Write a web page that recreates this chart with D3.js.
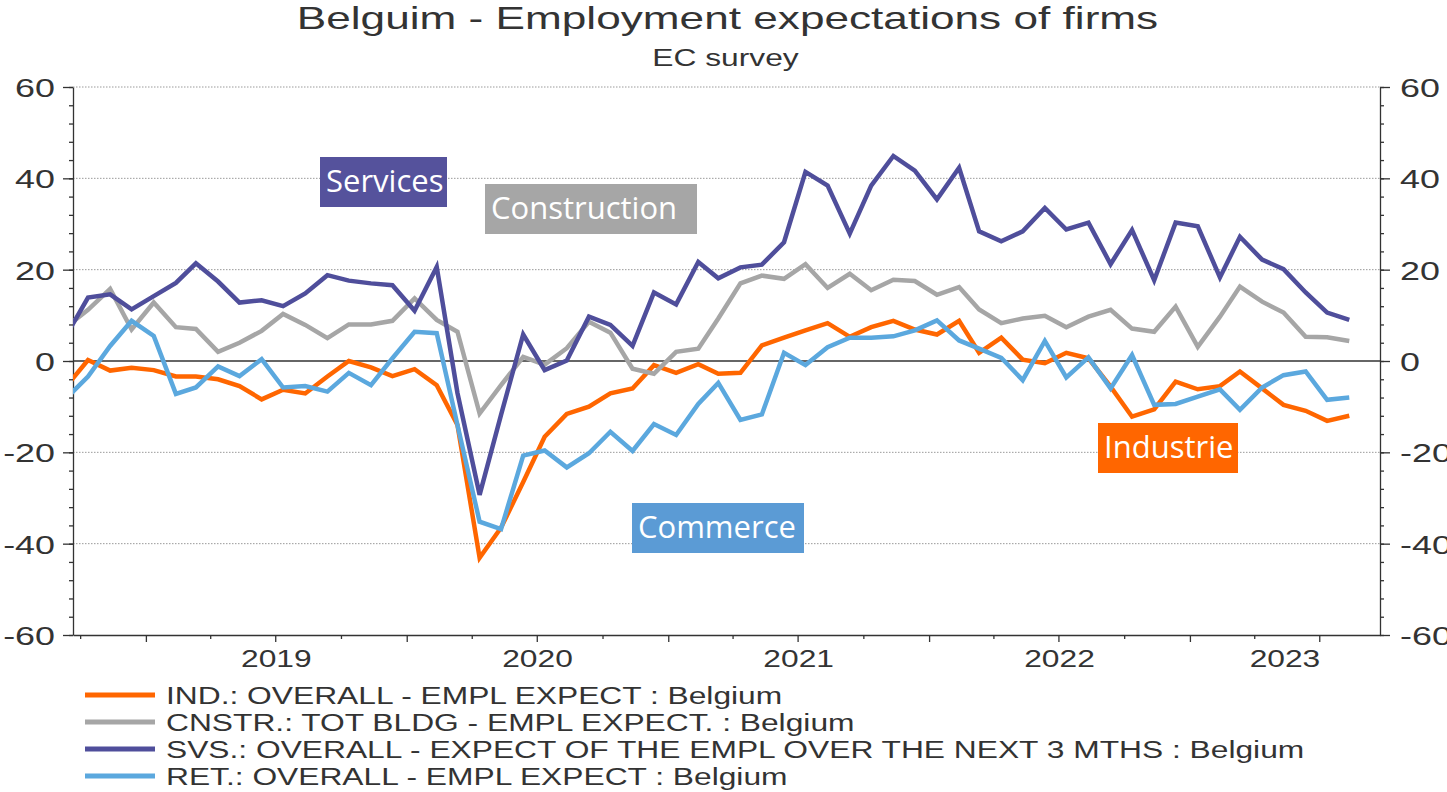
<!DOCTYPE html>
<html>
<head>
<meta charset="utf-8">
<script src="https://cdn.jsdelivr.net/npm/d3@7"></script>
<style>
  body { margin: 0; background: #fff; }
  svg { display: block; }
  text { font-family: "Liberation Sans", Arial, sans-serif; fill: #333; }
</style>
</head>
<body>
<script>
// monthly balances, Sep 2018 .. Aug 2023
const industry = [
  -5.5, 0.2, -2.1, -1.5,
  -2.0, -3.4, -3.4, -4.0, -5.5, -8.4, -6.3, -7.1, -3.4, 0.0, -1.4, -3.3,
  -1.8, -5.3, -14.0, -43.1, -36.5, -26.5, -16.6, -11.6, -10.0, -7.1, -6.0, -0.9,
  -2.6, -0.7, -2.8, -2.6, 3.4, 5.1, 6.7, 8.3, 5.3, 7.4, 8.8, 6.9,
  5.8, 8.8, 1.8, 5.1, 0.3, -0.5, 1.8, 0.6, -5.6, -12.2, -10.6, -4.5,
  -6.2, -5.5, -2.3, -6.0, -9.6, -10.9, -13.1, -12.0
];
const construction = [
  7.5, 11.2, 15.8, 6.9,
  12.8, 7.4, 7.0, 2.0, 4.0, 6.6, 10.3, 7.9, 5.0, 8.0, 8.0, 8.8,
  13.7, 9.0, 6.4, -11.5, -5.3, 0.9, -0.8, 2.8, 8.6, 6.2, -1.7, -2.8,
  2.0, 2.7, 9.3, 17.0, 18.7, 18.0, 21.2, 16.0, 19.1, 15.5, 17.8, 17.5,
  14.5, 16.2, 11.3, 8.3, 9.3, 9.9, 7.4, 9.7, 11.2, 7.1, 6.4, 11.9,
  3.1, 9.7, 16.3, 13.0, 10.6, 5.3, 5.2, 4.4
];
const services = [
  5.7, 13.9, 14.6, 11.3,
  14.2, 17.1, 21.4, 17.4, 12.8, 13.3, 12.0, 14.8, 18.8, 17.6, 17.0, 16.6,
  11.0, 20.6, -7.0, -29.3, -11.8, 5.8, -2.0, 0.1, 9.7, 7.9, 3.3, 15.0,
  12.4, 21.7, 18.1, 20.5, 21.1, 26.0, 41.4, 38.4, 27.9, 38.4, 44.9, 41.7,
  35.4, 42.3, 28.4, 26.2, 28.4, 33.5, 28.8, 30.3, 21.2, 28.7, 17.7, 30.3,
  29.5, 18.3, 27.2, 22.2, 20.1, 15.0, 10.6, 9.0
];
const retail = [
  -8.1, -3.4, 3.3, 8.8,
  5.5, -7.2, -5.8, -1.2, -3.3, 0.4, -5.8, -5.5, -6.7, -2.6, -5.3, 0.6,
  6.4, 6.1, -14.0, -35.2, -36.8, -20.7, -19.6, -23.3, -20.2, -15.5, -19.7, -13.8,
  -16.2, -9.4, -4.8, -12.9, -11.7, 1.8, -0.9, 3.0, 5.1, 5.1, 5.4, 6.7,
  8.9, 4.5, 2.7, 0.7, -4.2, 4.4, -3.6, 0.8, -6.0, 1.3, -9.6, -9.4,
  -7.8, -6.2, -10.7, -5.8, -3.1, -2.3, -8.5, -8.0
];

const seriesNames = [
  'IND.: OVERALL - EMPL EXPECT : Belgium',
  'CNSTR.: TOT BLDG - EMPL EXPECT. : Belgium',
  'SVS.: OVERALL - EXPECT OF THE EMPL OVER THE NEXT 3 MTHS : Belgium',
  'RET.: OVERALL - EMPL EXPECT : Belgium'
];
const seriesColors = ['#ff6600', '#a6a6a6', '#4f4e9b', '#5ba8de'];
const yMajor = [-60, -40, -20, 0, 20, 40, 60];
const years = [2019, 2020, 2021, 2022, 2023];

const callouts = [
  { text: 'Services', fill: '#55529c', x: 320, y: 157, w: 127 },
  { text: 'Construction', fill: '#a6a6a6', x: 485, y: 184, w: 212 },
  { text: 'Commerce', fill: '#5b9bd5', x: 632, y: 503, w: 172 },
  { text: 'Industrie', fill: '#ff6600', x: 1098, y: 423, w: 140 }
];

const W = 1447, H = 792;
const plot = { left: 73, right: 1380, top: 87, bottom: 635 };
const SX = 1.38; // the original chart text is horizontally stretched

const months = d3.utcMonth.range(new Date(Date.UTC(2018, 8, 1)), new Date(Date.UTC(2023, 8, 1)));
const pointDate = m => d3.utcDay.offset(m, 11);

const x = d3.scaleUtc()
  .domain([new Date(Date.UTC(2018, 8, 21)), new Date(Date.UTC(2023, 8, 24))])
  .range([plot.left, plot.right]);
const y = d3.scaleLinear().domain([-60, 60]).range([plot.bottom, plot.top]);

const svg = d3.select('body').append('svg').attr('width', W).attr('height', H);

// stretch text horizontally, keeping its anchor
function stretch(sel, anchor, sx) {
  sx = sx || SX;
  sel.each(function () {
    const t = d3.select(this);
    const w = this.getComputedTextLength();
    const x0 = +t.attr('x') || 0;
    const shift = anchor === 'middle' ? w * sx / 2 : anchor === 'end' ? w * sx : 0;
    t.attr('text-anchor', 'start')
      .attr('x', x0 - shift)
      .attr('textLength', w * sx)
      .attr('lengthAdjust', 'spacingAndGlyphs');
  });
}

// titles
svg.append('text').attr('x', W / 2 + 4).attr('y', 29)
  .style('font-size', '32px').text('Belguim - Employment expectations of firms')
  .call(stretch, 'middle');
svg.append('text').attr('x', W / 2 + 2).attr('y', 66)
  .style('font-size', '23px').text('EC survey')
  .call(stretch, 'middle');

// gridlines
svg.append('g').selectAll('line')
  .data(yMajor.filter(v => v !== 0 && v !== -60))
  .join('line')
  .attr('x1', plot.left).attr('x2', plot.right)
  .attr('y1', d => y(d)).attr('y2', d => y(d))
  .attr('stroke', '#9a9a9a').attr('stroke-width', 1)
  .attr('stroke-dasharray', '1.5,1.5');

// y axes: minor ticks every 4, major every 20
const minorY = d3.range(-60, 61, 4);
function yAxes(axisFn, tx, labelAnchor, pad) {
  const g = svg.append('g').attr('transform', `translate(${tx},0)`);
  g.append('g').call(axisFn(y).tickValues(minorY).tickSize(4).tickFormat(''))
    .call(a => a.select('.domain').remove());
  const major = g.append('g').call(axisFn(y).tickValues(yMajor).tickSize(10).tickPadding(pad)
    .tickSizeOuter(0).tickFormat(d => String(d)));
  major.select('.domain').attr('stroke', '#333').attr('stroke-width', 1.3);
  g.selectAll('.tick line').attr('stroke', '#333').attr('stroke-width', 1.3);
  major.selectAll('.tick text')
    .style('font-size', '26px').style('fill', '#333').attr('dy', null).attr('y', 9.5)
    .call(stretch, labelAnchor, 1.38);
}
yAxes(d3.axisLeft, plot.left, 'end', 8);
yAxes(d3.axisRight, plot.right, 'start', 10);

// zero line
svg.append('line')
  .attr('x1', plot.left).attr('x2', plot.right)
  .attr('y1', y(0)).attr('y2', y(0))
  .attr('stroke', '#333').attr('stroke-width', 1.5);

// x axis: quarter ticks, longer at Jan and Jul
const quarters = d3.utcMonth.every(3).range(x.domain()[0], x.domain()[1]);
const xg = svg.append('g').attr('transform', `translate(0,${plot.bottom})`);
xg.append('g').call(d3.axisBottom(x).tickValues(quarters.filter(d => d.getUTCMonth() % 6 !== 0)).tickSize(4).tickFormat('').tickSizeOuter(0))
  .call(a => a.select('.domain').remove());
const xMaj = xg.append('g').call(d3.axisBottom(x).tickValues(quarters.filter(d => d.getUTCMonth() % 6 === 0)).tickSize(7).tickFormat('').tickSizeOuter(0));
xMaj.select('.domain').attr('stroke', '#333').attr('stroke-width', 1.5);
xg.selectAll('.tick line').attr('stroke', '#333').attr('stroke-width', 1.3);

// year labels centred in the visible part of each year
svg.append('g').selectAll('text')
  .data(years)
  .join('text')
  .attr('x', yr => {
    const a = Math.max(x(new Date(Date.UTC(yr, 0, 1))), plot.left);
    const b = Math.min(x(new Date(Date.UTC(yr + 1, 0, 1))), plot.right);
    return (a + b) / 2;
  })
  .attr('y', 667)
  .style('font-size', '23px')
  .text(yr => yr)
  .call(stretch, 'middle');

// lines
svg.append('clipPath').attr('id', 'clip')
  .append('rect').attr('x', plot.left).attr('y', 0)
  .attr('width', plot.right - plot.left).attr('height', H);

const allSeries = [industry, construction, services, retail];
const line = d3.line()
  .x((d, i) => x(pointDate(months[i])))
  .y(d => y(d));

svg.append('g').attr('clip-path', 'url(#clip)')
  .selectAll('path')
  .data(allSeries)
  .join('path')
  .attr('d', line)
  .attr('fill', 'none')
  .attr('stroke', (d, i) => seriesColors[i])
  .attr('stroke-width', 4.5)
  .attr('stroke-linejoin', 'miter');

// callout boxes
const cg = svg.append('g').selectAll('g').data(callouts).join('g');
cg.append('rect')
  .attr('x', d => d.x).attr('y', d => d.y)
  .attr('width', d => d.w).attr('height', 50)
  .attr('fill', d => d.fill);
cg.append('text')
  .attr('x', d => d.x + 6).attr('y', d => d.y + 35)
  .style('font-family', '"Open Sans", sans-serif')
  .style('font-size', '31px')
  .style('fill', '#fff')
  .text(d => d.text);

// legend
const lg = svg.append('g').selectAll('g').data(seriesNames).join('g')
  .attr('transform', (d, i) => `translate(85,${695 + i * 27})`);
lg.append('line')
  .attr('x1', 0).attr('x2', 70)
  .attr('stroke', (d, i) => seriesColors[i])
  .attr('stroke-width', 5);
lg.append('text')
  .attr('x', 81).attr('y', 8.5)
  .style('font-size', '23px')
  .text(d => d)
  .call(stretch, 'start');
</script>
</body>
</html>
